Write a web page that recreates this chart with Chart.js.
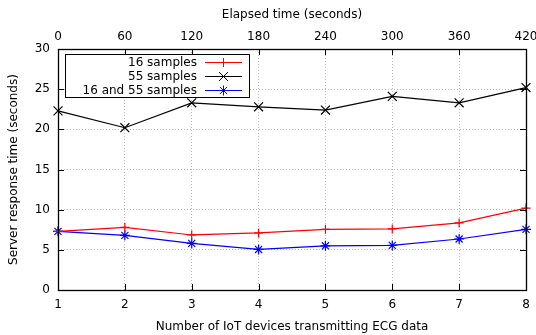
<!DOCTYPE html>
<html>
<head>
<meta charset="utf-8">
<script src="https://cdn.jsdelivr.net/npm/chart.js@4"></script>
<style>
  html, body { margin: 0; padding: 0; background: #fff; }
</style>
</head>
<body>
<canvas id="chart" width="536" height="335"></canvas>
<script>
// devices on bottom axis, elapsed seconds on top axis
var devices = [1, 2, 3, 4, 5, 6, 7, 8];
var elapsed = [0, 60, 120, 180, 240, 300, 360, 420];
// response times (seconds)
var s16 = [7.3, 7.8, 6.85, 7.1, 7.55, 7.6, 8.35, 10.2];
var s55 = [22.3, 20.2, 23.3, 22.8, 22.4, 24.1, 23.3, 25.2];
var s16and55 = [7.3, 6.8, 5.8, 5.05, 5.5, 5.55, 6.35, 7.55];

var FONT = "'DejaVu Sans', sans-serif";
Chart.defaults.font.family = FONT;
Chart.defaults.font.size = 12;
Chart.defaults.color = '#000';

function pts(vals) {
  return devices.map(function (d, i) { return { x: d, y: vals[i] }; });
}

// fixed box sizes so the plot area sits where gnuplot put it
function fixHeight(h) {
  return function (scale) { scale.height = h; scale.paddingLeft = 0; scale.paddingRight = 0; };
}

// frame, inward ticks and the boxed legend (gnuplot style)
var gnuplotFrame = {
  id: 'gnuplotFrame',
  afterDatasetsDraw: function (chart) {
    var c = chart.ctx, a = chart.chartArea;
    var sx = chart.scales.x, sy = chart.scales.y;
    c.save();
    c.strokeStyle = '#000';
    c.lineWidth = 1;
    c.beginPath();
    devices.forEach(function (d) {
      var px = Math.round(sx.getPixelForValue(d)) + 0.5;
      c.moveTo(px, a.bottom); c.lineTo(px, a.bottom - 6);
      c.moveTo(px, a.top); c.lineTo(px, a.top + 6);
    });
    for (var v = 0; v <= 30; v += 5) {
      var py = Math.round(sy.getPixelForValue(v)) + 0.5;
      c.moveTo(a.left, py); c.lineTo(a.left + 6, py);
      c.moveTo(a.right, py); c.lineTo(a.right - 6, py);
    }
    c.stroke();
    c.lineWidth = 1.3;
    c.strokeRect(Math.round(a.left) + 0.5, Math.round(a.top) + 0.5,
      Math.round(a.right - a.left), Math.round(a.bottom - a.top));

    // legend
    c.lineWidth = 1;
    var lx = Math.round(a.left) + 7.5, ly = Math.round(a.top) + 5.5, lw = 184, lh = 43;
    c.fillStyle = '#fff';
    c.fillRect(lx, ly, lw, lh);
    c.strokeRect(lx, ly, lw, lh);
    c.font = '12px ' + FONT;
    c.textAlign = 'right';
    c.textBaseline = 'middle';
    chart.data.datasets.forEach(function (ds, i) {
      var y = Math.round(ly + 7 + i * 14) + 0.5;
      c.fillStyle = '#000';
      c.fillText(ds.label, lx + 131.5, y);
      c.strokeStyle = ds.borderColor;
      c.beginPath();
      c.moveTo(lx + 139.5, y);
      c.lineTo(lx + 176.5, y);
      c.stroke();
      Chart.helpers.drawPoint(c, {
        pointStyle: ds.pointStyle, radius: ds.pointRadius,
        borderWidth: 1
      }, lx + 158, y);
    });
    c.restore();
  }
};

new Chart(document.getElementById('chart'), {
  type: 'line',
  data: {
    datasets: [
      { label: '16 samples', data: pts(s16), borderColor: '#ff0000',
        pointStyle: 'cross', pointRadius: 4.5 },
      { label: '55 samples', data: pts(s55), borderColor: '#000000',
        pointStyle: 'crossRot', pointRadius: 6.3 },
      { label: '16 and 55 samples', data: pts(s16and55), borderColor: '#0000ff',
        pointStyle: 'star', pointRadius: 5 }
    ].map(function (ds) {
      ds.borderWidth = 1.2;
      ds.pointBorderColor = ds.borderColor;
      ds.pointBackgroundColor = ds.borderColor;
      ds.pointBorderWidth = 1.2;
      ds.fill = false;
      ds.tension = 0;
      return ds;
    })
  },
  options: {
    responsive: false,
    animation: false,
    clip: false,
    layout: { padding: { left: 0, right: 10, top: 0, bottom: 0 } },
    plugins: { legend: { display: false }, tooltip: { enabled: false } },
    scales: {
      x: {
        type: 'linear', position: 'bottom', min: 1, max: 8,
        afterFit: fixHeight(45),
        ticks: { stepSize: 1, padding: 8, maxRotation: 0 },
        grid: { color: '#b8b8b8', lineWidth: 1, drawTicks: false },
        border: { display: false, dash: [1, 2] },
        title: { display: true, text: 'Number of IoT devices transmitting ECG data',
                 padding: { top: 0, bottom: 1 } }
      },
      x2: {
        type: 'linear', position: 'top', min: 0, max: 420,
        afterFit: fixHeight(49),
        ticks: { stepSize: 60, padding: 5, maxRotation: 0 },
        grid: { display: false, drawTicks: false },
        border: { display: false },
        title: { display: true, text: 'Elapsed time (seconds)',
                 padding: { top: 8, bottom: 0 } }
      },
      y: {
        type: 'linear', min: 0, max: 30,
        afterFit: function (scale) { scale.width = 58; },
        ticks: { stepSize: 5, padding: 8 },
        grid: { color: '#b8b8b8', lineWidth: 1, drawTicks: false },
        border: { display: false, dash: [1, 2] },
        title: { display: true, text: 'Server response time (seconds)',
                 padding: { top: 7, bottom: 0 } }
      }
    }
  },
  plugins: [gnuplotFrame]
});
</script>
</body>
</html>
